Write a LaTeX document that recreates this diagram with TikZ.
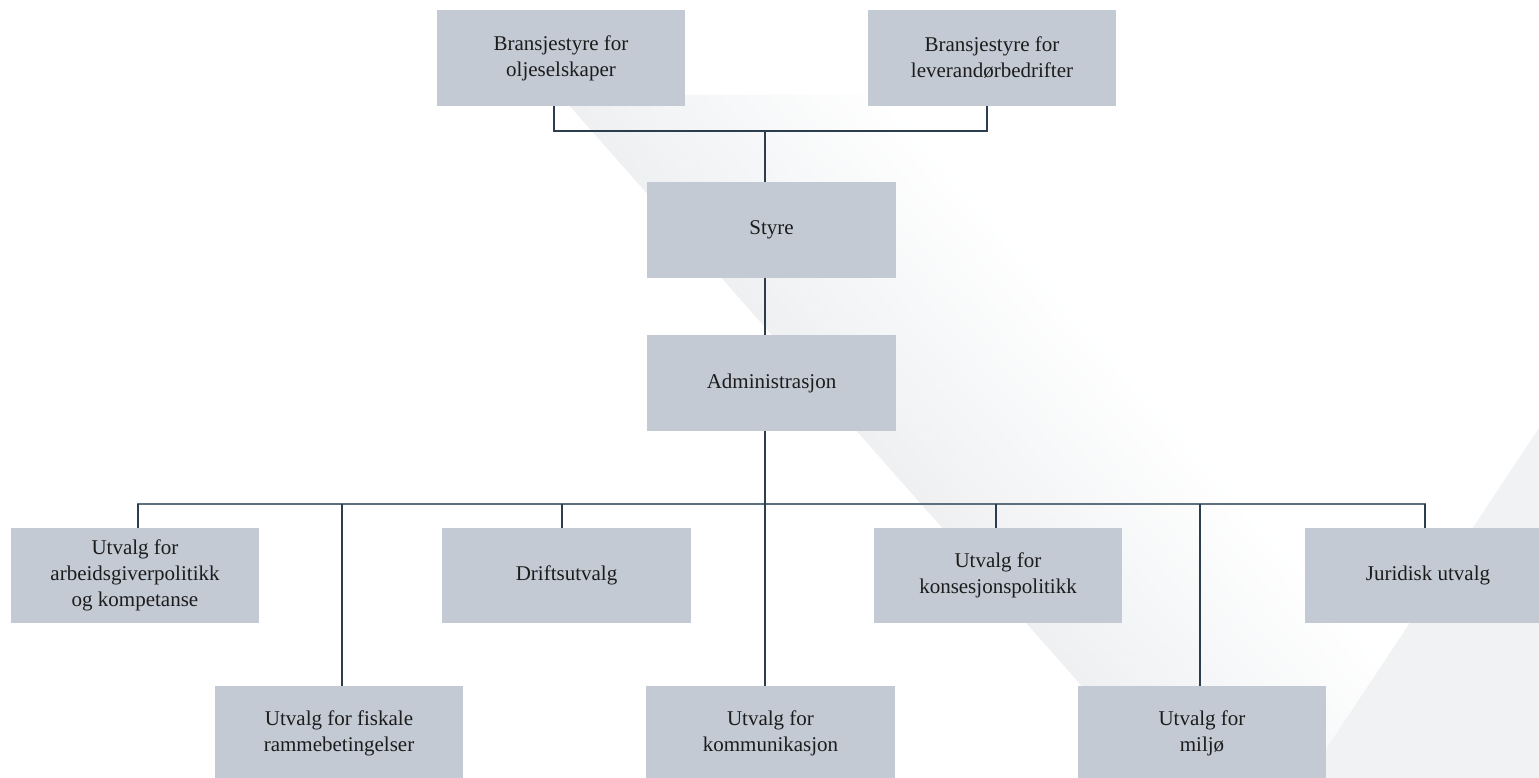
\documentclass[tikz,border=0pt]{standalone}
\usepackage{fontspec}
\setmainfont{Liberation Serif}
\definecolor{boxfill}{HTML}{C3CAD4}
\definecolor{linedark}{HTML}{2C3E4E}
\definecolor{linebus}{HTML}{5E6F7E}
\definecolor{txt}{HTML}{1C1C1C}
\definecolor{bgshade}{HTML}{EEF0F2}
\definecolor{bgtri}{HTML}{F1F2F4}
\begin{document}
\begin{tikzpicture}[x=1pt,y=-1pt,
  orgbox/.style={rectangle, fill=boxfill, draw=none, minimum width=248pt, minimum height=96pt,
    inner sep=0pt, align=center, text=txt, font=\fontsize{21}{26}\selectfont},
  lowbox/.style={orgbox, minimum height=94pt},
  vline/.style={draw=linedark, line width=1.3pt},
  topbus/.style={draw=linedark, line width=1.8pt, line cap=rect},
  busline/.style={draw=linebus, line width=2.2pt, line cap=rect},
]
\useasboundingbox (0,0) rectangle (1539,778);
\fill[white] (0,0) rectangle (1539,778);
% faint background shapes
\foreach \i in {0,...,39}{
  \pgfmathsetmacro{\pc}{100-2.5*\i}
  \fill[bgshade!\pc!white] (560+8*\i,95) -- (568+8*\i,95) -- (1171+8*\i,778) -- (1163+8*\i,778) -- cycle;
}
\fill[bgtri] (1539,428) -- (1539,778) -- (1307,778) -- cycle;

% nodes
\node[orgbox] (b1) at (561,58) {Bransjestyre for\\oljeselskaper};
\node[orgbox] (b2) at (992,58) {Bransjestyre for\\leverandørbedrifter};
\node[orgbox, minimum width=249pt] (styre) at (771.5,230) {Styre};
\node[orgbox, minimum width=249pt] (admin) at (771.5,383) {Administrasjon};
\node[orgbox, minimum height=95pt] (u1) at (135,575.5) {Utvalg for\\arbeidsgiverpolitikk\\og kompetanse};
\node[orgbox, minimum height=95pt, minimum width=249pt] (u3) at (566.5,575.5) {Driftsutvalg};
\node[orgbox, minimum height=95pt] (u5) at (998,575.5) {Utvalg for\\konsesjonspolitikk};
\node[orgbox, minimum height=95pt, minimum width=234pt] (u7) at (1422,575.5) {\hspace*{12pt}Juridisk utvalg};
\node[lowbox] (u2) at (339,733) {Utvalg for fiskale\\rammebetingelser};
\node[lowbox, minimum width=249pt] (u4) at (770.5,733) {Utvalg for\\kommunikasjon};
\node[lowbox] (u6) at (1202,733) {Utvalg for\\miljø};

% connectors, top level
\coordinate (j1) at (554,131);
\coordinate (j2) at (987,131);
\coordinate (j0) at (765,131);
\draw[vline] (b1.south -| j1) -- (j1);
\draw[vline] (b2.south -| j2) -- (j2);
\draw[topbus] (j1) -- (j2);
\draw[vline] (j0) -- (styre.north -| j0);
\draw[vline] (styre.south -| j0) -- (admin.north -| j0);

% connectors, committees
\coordinate (k0) at (765,504);
\coordinate (k1) at (138,504);
\coordinate (k2) at (342,504);
\coordinate (k3) at (562,504);
\coordinate (k5) at (996,504);
\coordinate (k6) at (1200,504);
\coordinate (k7) at (1425,504);
\draw[busline] (k1) -- (k7);
\draw[vline] (admin.south -| k0) -- (u4.north -| k0);
\draw[vline] (k1) -- (u1.north -| k1);
\draw[vline] (k2) -- (u2.north -| k2);
\draw[vline] (k3) -- (u3.north -| k3);
\draw[vline] (k5) -- (u5.north -| k5);
\draw[vline] (k6) -- (u6.north -| k6);
\draw[vline] (k7) -- (u7.north -| k7);
\end{tikzpicture}
\end{document}
